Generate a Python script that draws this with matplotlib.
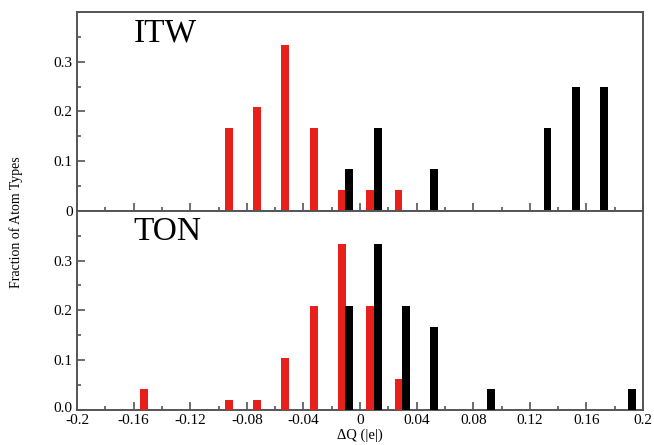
import matplotlib
matplotlib.use("Agg")
import matplotlib.pyplot as plt
import matplotlib.transforms as mtransforms
import numpy as np

bins_itw_red = [-0.09, -0.07, -0.05, -0.03, -0.01, 0.01, 0.03]
vals_itw_red = [0.167, 0.208, 0.333, 0.167, 0.042, 0.042, 0.042]
bins_itw_black = [-0.01, 0.01, 0.05, 0.13, 0.15, 0.17]
vals_itw_black = [0.083, 0.167, 0.083, 0.167, 0.25, 0.25]

bins_ton_red = [-0.15, -0.09, -0.07, -0.05, -0.03, -0.01, 0.01, 0.03]
vals_ton_red = [0.042, 0.021, 0.021, 0.104, 0.208, 0.333, 0.208, 0.0625]
bins_ton_black = [-0.01, 0.01, 0.03, 0.05, 0.09, 0.19]
vals_ton_black = [0.208, 0.333, 0.208, 0.167, 0.042, 0.042]

xticks = [-0.2, -0.16, -0.12, -0.08, -0.04, 0, 0.04, 0.08, 0.12, 0.16, 0.2]
xticklabels = ["-0.2", "-0.16", "-0.12", "-0.08", "-0.04", "0", "0.04", "0.08", "0.12", "0.16", "0.2"]

plt.rcParams['font.family'] = ['Liberation Serif', 'DejaVu Serif']

fig = plt.figure(figsize=(6.54, 4.45), dpi=100)
L, R = 77/654, 643/654
yb = 1 - 410/445
ym = 1 - 210.7/445
yt = 1 - 12/445
ax_top = fig.add_axes([L, ym, R - L, yt - ym])
ax_bot = fig.add_axes([L, yb, R - L, ym - yb])

w = 0.0056
red = '#e8201c'
spine_col = '#555555'

def style(ax, ylabels, show_x):
    ax.set_xlim(-0.2, 0.2)
    ax.set_ylim(0, 0.4)
    ax.set_xticks(xticks)
    ax.set_xticks(np.arange(-0.18, 0.2, 0.04), minor=True)
    ax.set_yticks([0, 0.1, 0.2, 0.3])
    ax.set_yticks([0.05, 0.15, 0.25, 0.35], minor=True)
    ax.set_yticklabels(ylabels, fontsize=11)
    if show_x:
        ax.set_xticklabels(xticklabels, fontsize=11)
    else:
        ax.set_xticklabels([])
    ax.tick_params(axis='both', which='major', direction='in', length=6, width=1.2,
                   color=spine_col, pad=3)
    ax.tick_params(axis='both', which='minor', direction='in', length=3, width=1.2,
                   color=spine_col)
    ax.tick_params(top=False, right=False, which='both')
    for s in ax.spines.values():
        s.set_color(spine_col)
        s.set_linewidth(1.4)

ax_top.bar(np.array(bins_itw_red) - 0.0028, vals_itw_red, width=w, color=red, zorder=3)
ax_top.bar(np.array(bins_itw_black) + 0.0025, vals_itw_black, width=w, color='black', zorder=3)
ax_bot.bar(np.array(bins_ton_red) - 0.0028, vals_ton_red, width=w, color=red, zorder=3)
ax_bot.bar(np.array(bins_ton_black) + 0.0025, vals_ton_black, width=w, color='black', zorder=3)

style(ax_top, ["0", "0.1", "0.2", "0.3"], False)
style(ax_bot, ["0.0", "0.1", "0.2", "0.3"], True)

# nudge the bottom "0.0" label up slightly so it does not collide with "-0.2"
lab0 = ax_bot.get_yticklabels()[0]
lab0.set_transform(lab0.get_transform() + mtransforms.ScaledTranslation(0, 3/100, fig.dpi_scale_trans))

ax_top.text(0.10, 0.97, "ITW", transform=ax_top.transAxes, fontsize=24, va='top', ha='left')
ax_bot.text(0.10, 0.97, "TON", transform=ax_bot.transAxes, fontsize=24, va='top', ha='left')

ax_bot.set_xlabel("ΔQ (|e|)", fontsize=10.5, labelpad=1)
fig.text(16/654, 0.5, "Fraction of Atom Types", rotation=90, va='center', ha='center', fontsize=10)

fig.savefig("out.png", dpi=100)
